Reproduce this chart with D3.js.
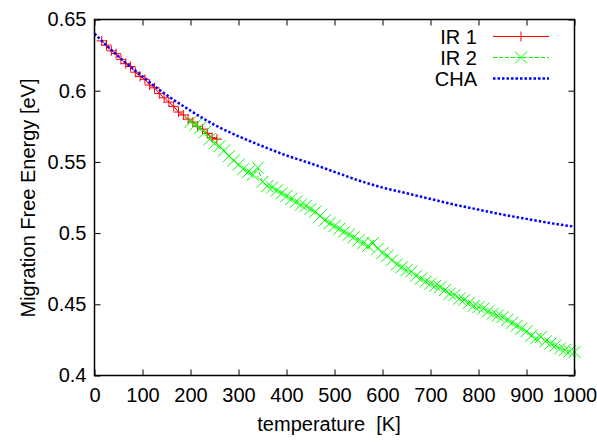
<!DOCTYPE html>
<html>
<head>
<meta charset="utf-8">
<script src="https://cdn.jsdelivr.net/npm/d3@7"></script>
<style>
  body { margin: 0; background: #fff; }
  text { font-family: "Liberation Sans", Arial, sans-serif; fill: #000; }
</style>
</head>
<body>
<div id="chart"></div>
<script>
var w = 597,
    h = 442;

// IR 1 (red, +)
var ir1T = [15, 25, 35, 45, 55, 65, 75, 85, 95, 105, 115, 125, 135, 145, 155, 165, 175, 185, 195, 205, 215, 225, 235, 245, 255];
var ir1E = [0.635, 0.632, 0.628, 0.626, 0.622, 0.619, 0.617, 0.613, 0.610, 0.608, 0.604, 0.602, 0.598, 0.595, 0.592, 0.589, 0.585, 0.583, 0.580, 0.578, 0.575, 0.573, 0.570, 0.567, 0.566];

// IR 2 (green, x)
var ir2T = [200, 210, 220, 230, 240, 250, 260, 270, 280, 290, 300, 310, 320, 330, 340, 350, 360, 370, 380, 390,
            400, 410, 420, 430, 440, 450, 460, 470, 480, 490, 500, 510, 520, 530, 540, 550, 560, 570, 580, 590,
            600, 610, 620, 630, 640, 650, 660, 670, 680, 690, 700, 710, 720, 730, 740, 750, 760, 770, 780, 790,
            800, 810, 820, 830, 840, 850, 860, 870, 880, 890, 900, 910, 920, 930, 940, 950, 960, 970, 980, 990, 1000];
var ir2E = [0.578, 0.576, 0.574, 0.571, 0.566, 0.563, 0.561, 0.558, 0.554, 0.551, 0.548, 0.545, 0.543, 0.541, 0.546, 0.536, 0.533, 0.532, 0.530, 0.528,
            0.526, 0.524, 0.522, 0.520, 0.519, 0.517, 0.515, 0.512, 0.509, 0.507, 0.505, 0.503, 0.501, 0.499, 0.497, 0.495, 0.493, 0.491, 0.493, 0.489,
            0.486, 0.484, 0.481, 0.478, 0.476, 0.474, 0.473, 0.470, 0.468, 0.466, 0.4645, 0.463, 0.462, 0.460, 0.4575, 0.4565, 0.454, 0.453, 0.451, 0.449,
            0.448, 0.447, 0.445, 0.4435, 0.442, 0.441, 0.439, 0.437, 0.435, 0.433, 0.431, 0.428, 0.426, 0.427, 0.424, 0.4225, 0.421, 0.419, 0.418, 0.417, 0.4165];

// CHA (blue, dotted)
var chaT = [0, 50, 100, 150, 200, 250, 300, 350, 400, 450, 500, 550, 600, 650, 700, 750, 800, 850, 900, 950, 1000];
var chaE = [0.640, 0.624, 0.610, 0.597, 0.586, 0.576, 0.568, 0.561, 0.5545, 0.549, 0.543, 0.537, 0.532, 0.528, 0.524, 0.520, 0.5165, 0.513, 0.510, 0.507, 0.5045];

var xTicks = [0, 100, 200, 300, 400, 500, 600, 700, 800, 900, 1000];
var yTicks = [0.4, 0.45, 0.5, 0.55, 0.6, 0.65];

var x = d3.scaleLinear().domain([0, 1000]).range([94.5, 574.5]);
var y = d3.scaleLinear().domain([0.4, 0.65]).range([375.5, 19.5]);

var svg = d3.select("#chart").append("svg")
    .attr("width", w)
    .attr("height", h);

function zip(ts, es) {
    return ts.map(function(t, i) { return { t: t, e: es[i] }; });
}
var ir1 = zip(ir1T, ir1E),
    ir2 = zip(ir2T, ir2E),
    cha = zip(chaT, chaE);

var line = d3.line()
    .x(function(d) { return x(d.t); })
    .y(function(d) { return y(d.e); });
var smooth = d3.line()
    .curve(d3.curveMonotoneX)
    .x(function(d) { return x(d.t); })
    .y(function(d) { return y(d.e); });

var plot = svg.append("g");

// IR 1
plot.append("path").datum(ir1)
    .attr("d", line)
    .attr("fill", "none")
    .attr("stroke", "#ff0000")
    .attr("stroke-width", 1);
plot.selectAll(".p1").data(ir1).enter().append("path")
    .attr("class", "p1")
    .attr("transform", function(d) { return "translate(" + x(d.t) + "," + y(d.e) + ")"; })
    .attr("d", "M-5,0H5M0,-5V5")
    .attr("stroke", "#ff0000")
    .attr("stroke-width", 1);

// IR 2
plot.append("path").datum(ir2)
    .attr("d", line)
    .attr("fill", "none")
    .attr("stroke", "#00ff00")
    .attr("stroke-width", 1)
    .attr("stroke-dasharray", "4,2");
plot.selectAll(".p2").data(ir2).enter().append("path")
    .attr("class", "p2")
    .attr("transform", function(d) { return "translate(" + x(d.t) + "," + y(d.e) + ")"; })
    .attr("d", "M-6,-6L6,6M-6,6L6,-6")
    .attr("stroke", "#00ff00")
    .attr("stroke-width", 1);

// CHA
plot.append("path").datum(cha)
    .attr("d", smooth)
    .attr("fill", "none")
    .attr("stroke", "#0000ff")
    .attr("stroke-width", 2.5)
    .attr("stroke-dasharray", "2.5,2");

// axes, ticks pointing inward on all four sides
var fmt = function(d) { return String(+d.toFixed(2)); };

svg.append("g")
    .attr("transform", "translate(0,375.5)")
    .call(d3.axisBottom(x).tickValues(xTicks).tickSize(-6).tickPadding(12).tickFormat(fmt));
svg.append("g")
    .attr("transform", "translate(0,19.5)")
    .call(d3.axisTop(x).tickValues(xTicks).tickSize(-6).tickFormat(""));
svg.append("g")
    .attr("transform", "translate(94.5,0)")
    .call(d3.axisLeft(y).tickValues(yTicks).tickSize(-6).tickPadding(8).tickFormat(fmt));
svg.append("g")
    .attr("transform", "translate(574.5,0)")
    .call(d3.axisRight(y).tickValues(yTicks).tickSize(-6).tickFormat(""));

svg.selectAll(".domain").remove();
svg.selectAll(".tick line").attr("stroke", "#000").attr("stroke-width", 1);
svg.selectAll(".tick text").style("font-size", "20px").attr("fill", "#000");

svg.append("rect")
    .attr("x", 94.5).attr("y", 19.5)
    .attr("width", 480).attr("height", 356)
    .attr("fill", "none")
    .attr("stroke", "#000")
    .attr("stroke-width", 1.5);

// axis titles
svg.append("text")
    .attr("x", 329)
    .attr("y", 431)
    .attr("text-anchor", "middle")
    .attr("xml:space", "preserve")
    .style("white-space", "pre")
    .style("font-size", "20px")
    .text("temperature  [K]");

svg.append("text")
    .attr("transform", "translate(35,198) rotate(-90)")
    .attr("text-anchor", "middle")
    .style("font-size", "20px")
    .text("Migration Free Energy [eV]");

// legend
var legend = [
    { name: "IR 1", color: "#ff0000", dash: null, width: 1.2, mark: "M-5,0H5M0,-5V5" },
    { name: "IR 2", color: "#00ff00", dash: "4,2", width: 1.2, mark: "M-6,-6L6,6M-6,6L6,-6" },
    { name: "CHA", color: "#0000ff", dash: "2.5,2", width: 2.5, mark: null }
];
var lg = svg.selectAll(".legend").data(legend).enter().append("g")
    .attr("class", "legend")
    .attr("transform", function(d, i) { return "translate(0," + (36.5 + i * 21) + ")"; });
lg.append("text")
    .attr("x", 477)
    .attr("y", 7)
    .attr("text-anchor", "end")
    .style("font-size", "20px")
    .text(function(d) { return d.name; });
lg.append("line")
    .attr("x1", 493).attr("x2", 549)
    .attr("y1", 0).attr("y2", 0)
    .attr("stroke", function(d) { return d.color; })
    .attr("stroke-width", function(d) { return d.width; })
    .attr("stroke-dasharray", function(d) { return d.dash; });
lg.filter(function(d) { return d.mark; }).append("path")
    .attr("transform", "translate(521,0)")
    .attr("d", function(d) { return d.mark; })
    .attr("stroke", function(d) { return d.color; })
    .attr("stroke-width", 1);
</script>
</body>
</html>
